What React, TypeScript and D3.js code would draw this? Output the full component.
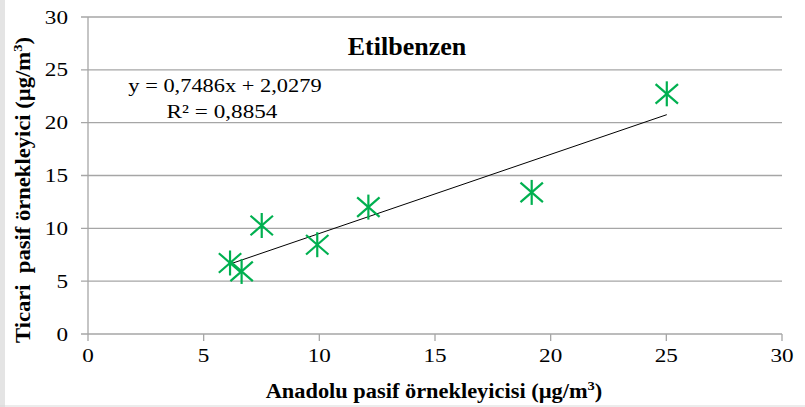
import React from "react";
import * as d3 from "d3";

// Etilbenzen: Anadolu vs. ticari pasif örnekleyici ölçümleri (µg/m³)
const anadoluValues = [6.14, 6.64, 7.51, 9.91, 12.12, 19.18, 25.02];
const ticariValues = [6.72, 5.92, 10.27, 8.45, 12.01, 13.4, 22.73];
const xTicks = [0, 5, 10, 15, 20, 25, 30];
const yTicks = [0, 5, 10, 15, 20, 25, 30];
const trendSlope = 0.7486;
const trendIntercept = 2.0279;
const rSquared = 0.8854;

const W = 805;
const H = 407;
const SERIF = "'Liberation Serif', 'Times New Roman', serif";
const GREEN = "#00b050";
const GRID = "#a6a6a6";

const fmt = (v: number) => v.toFixed(4).replace(".", ",");

// horizontally widened text, anchored at (px, py)
function WideText(props: {
  px: number;
  py: number;
  sx: number;
  size: number;
  anchor?: string;
  bold?: boolean;
  rotate?: number;
  dy?: string;
  children: React.ReactNode;
}) {
  const { px, py, sx, size, anchor = "middle", bold, rotate = 0, dy, children } = props;
  return (
    <text
      transform={`translate(${px},${py}) rotate(${rotate}) scale(${sx},1)`}
      textAnchor={anchor}
      fontSize={size}
      fontWeight={bold ? "bold" : "normal"}
      dy={dy}
      fill="#000"
    >
      {children}
    </text>
  );
}

export default function App() {
  const x = d3.scaleLinear().domain([0, 30]).range([88, 782]);
  const y = d3.scaleLinear().domain([0, 30]).range([334, 17]);

  const xMin = d3.min(anadoluValues) as number;
  const xMax = d3.max(anadoluValues) as number;
  const trend = d3
    .line<number>()
    .x((d) => x(d))
    .y((d) => y(trendSlope * d + trendIntercept));

  const m = 12.5; // marker half-size
  const d45 = m * 0.78;

  return (
    <svg
      width={W}
      height={H}
      style={{ position: "absolute", left: 0, top: 0, background: "#fff" }}
      fontFamily={SERIF}
    >
      {/* frame */}
      <rect x={0} y={0} width={5} height={H} fill="#e4e4e4" />
      <line x1={0} x2={W} y1={H - 1} y2={H - 1} stroke="#d9d9d9" />

      {/* horizontal gridlines with outward ticks */}
      {yTicks.map((t) => (
        <line
          key={"g" + t}
          x1={x(0) - 7}
          x2={x(30)}
          y1={y(t)}
          y2={y(t)}
          stroke={GRID}
          strokeWidth={1.3}
        />
      ))}
      {/* y axis */}
      <line x1={x(0)} x2={x(0)} y1={y(30)} y2={y(0)} stroke={GRID} strokeWidth={1.3} />
      {/* x axis ticks */}
      {xTicks.map((t) => (
        <line
          key={"xt" + t}
          x1={x(t)}
          x2={x(t)}
          y1={y(0)}
          y2={y(0) + 7}
          stroke={GRID}
          strokeWidth={1.3}
        />
      ))}

      {/* tick labels */}
      {yTicks.map((t) => (
        <WideText key={"yl" + t} px={68} py={y(t)} dy="0.35em" sx={1.22} size={19} anchor="end">
          {t}
        </WideText>
      ))}
      {xTicks.map((t) => (
        <WideText key={"xl" + t} px={x(t)} py={362} sx={1.22} size={19}>
          {t}
        </WideText>
      ))}

      {/* trendline */}
      <path d={trend([xMin, xMax]) || ""} fill="none" stroke="#000" strokeWidth={1} />

      {/* markers */}
      {anadoluValues.map((v, i) => {
        const cx = x(v);
        const cy = y(ticariValues[i]);
        return (
          <g key={"p" + i} stroke={GREEN} strokeWidth={2.2} strokeLinecap="butt">
            <line x1={cx} x2={cx} y1={cy - m} y2={cy + m} />
            <line x1={cx - d45 * 1.15} x2={cx + d45 * 1.15} y1={cy - d45} y2={cy + d45} />
            <line x1={cx - d45 * 1.15} x2={cx + d45 * 1.15} y1={cy + d45} y2={cy - d45} />
          </g>
        );
      })}

      {/* title */}
      <text x={407} y={55} textAnchor="middle" fontSize={26} fontWeight="bold" fill="#000">
        Etilbenzen
      </text>

      {/* equation */}
      <WideText px={225} py={92} sx={1.18} size={19}>
        {`y = ${fmt(trendSlope)}x + ${fmt(trendIntercept)}`}
      </WideText>
      <WideText px={222} py={118} sx={1.22} size={19}>
        {`R² = ${fmt(rSquared)}`}
      </WideText>

      {/* axis titles */}
      <WideText px={434} py={398} sx={1.12} size={20} bold>
        Anadolu pasif örnekleyicisi (µg/m
        <tspan dy={-8} fontSize={13}>3</tspan>
        <tspan dy={8}>)</tspan>
      </WideText>
      <WideText px={30} py={190} sx={1.13} size={20} bold rotate={-90}>
        Ticari{"\u00a0\u00a0"}pasif örnekleyici (µg/m
        <tspan dy={-8} fontSize={13}>3</tspan>
        <tspan dy={8}>)</tspan>
      </WideText>
    </svg>
  );
}
